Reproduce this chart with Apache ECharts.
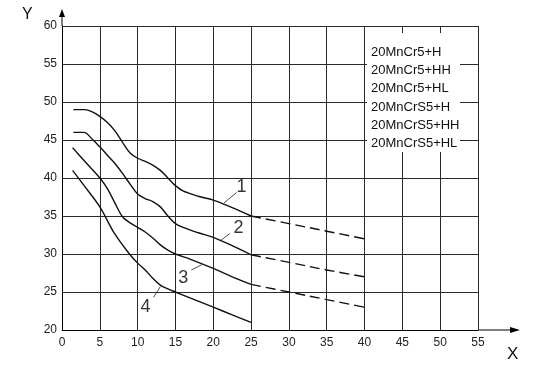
<!DOCTYPE html>
<html>
<head>
<meta charset="utf-8">
<script src="https://cdn.jsdelivr.net/npm/echarts@6/dist/echarts.min.js"></script>
<style>
  html, body { margin: 0; padding: 0; background: #fff; }
  #chart { width: 535px; height: 376px; }
</style>
</head>
<body>
<div id="chart"></div>
<script>
// curve data: [x, y]
const curve1 = [[1.5,49],[3,49],[4,48.7],[5,48.1],[6,47.3],[7,46.2],[8,44.7],[9,43.3],[10,42.6],[11,42.2],[12,41.7],[13,41.0],[14,40.0],[15,39.0],[16,38.3],[18,37.6],[20,37.1],[22.5,36.1],[25,35.0]]
const curve1Dash = [[25,35.0],[30,34.0],[35,33.0],[40,32.0]]
const curve2 = [[1.5,46],[2.9,46],[4,45.1],[5,44.1],[6,43.0],[7,41.9],[8,40.6],[9,39.2],[10,37.9],[11,37.3],[12,36.9],[13,36.2],[14,35.0],[15,34.0],[16,33.5],[18,32.8],[20,32.2],[22.5,31.1],[25,29.9]]
const curve2Dash = [[25,29.9],[30,28.9],[35,27.9],[40,27.0]]
const curve3 = [[1.4,44],[3,42.2],[5,40],[6,38.6],[7,36.7],[8,34.9],[9,34.1],[10,33.5],[11,32.9],[12,32.1],[13,31.2],[14,30.5],[15,30.0],[17,29.3],[20,28.1],[22.5,27.0],[25,26.0]]
const curve3Dash = [[25,26.0],[30,25.0],[35,24.0],[40,23.0]]
const curve4 = [[1.4,41],[3,38.9],[5,36.2],[7,32.6],[9,29.9],[10,28.8],[11,27.9],[12,26.8],[13,25.9],[14,25.4],[15,25.0],[17,24.2],[20,23.0],[22.5,22.0],[25,21.0]]

// curve number labels and their leader lines
const curveNames = ['1', '2', '3', '4']
const labelPos = [[23.8,38.8],[23.4,33.3],[16.1,26.8],[11.1,22.9]]
const leaders = [
  [[21.4,36.7],[23.1,38.1]],
  [[21.0,31.8],[22.2,32.7]],
  [[17.1,27.9],[18.5,28.6]],
  [[12.1,24.3],[13.0,25.7]]
]

const xTicks = [0,5,10,15,20,25,30,35,40,45,50,55]
const yTicks = [20,25,30,35,40,45,50,55,60]
const grades = ['20MnCr5+H','20MnCr5+HH','20MnCr5+HL','20MnCrS5+H','20MnCrS5+HH','20MnCrS5+HL']

const chart = echarts.init(document.getElementById('chart'), null, { renderer: 'canvas' })

const font = 'Liberation Sans, Arial, sans-serif'
const solid = { color: '#111', width: 1.4 }
const dashed = { color: '#111', width: 1.4, type: [10, 5] }

const lineSeries = (data, style) => ({
  type: 'line',
  data: data,
  smooth: 0.35,
  showSymbol: false,
  symbol: 'none',
  lineStyle: style,
  silent: true,
  z: 3
})

const series = [
  lineSeries(curve1, solid), lineSeries(curve1Dash, dashed),
  lineSeries(curve2, solid), lineSeries(curve2Dash, dashed),
  lineSeries(curve3, solid), lineSeries(curve3Dash, dashed),
  lineSeries(curve4, solid)
]

leaders.forEach(seg => {
  series.push({
    type: 'line',
    data: seg,
    symbol: 'none',
    lineStyle: { color: '#222', width: 0.8 },
    silent: true
  })
})

// numbers next to the curves
series.push({
  type: 'scatter',
  data: labelPos.map((p, i) => ({ value: p, name: curveNames[i] })),
  symbolSize: 1,
  silent: true,
  z: 5,
  itemStyle: { color: 'rgba(0,0,0,0)' },
  label: {
    show: true,
    position: [0, 0],
    align: 'center',
    verticalAlign: 'middle',
    formatter: p => p.name,
    fontFamily: font,
    fontSize: 18,
    color: '#000',
    textBorderWidth: 0
  }
})

// legend-like text block on the right
const boxGraphic = [
  {
    type: 'rect',
    shape: { x: 367, y: 33, width: 93, height: 119 },
    style: { fill: '#fff' },
    z: 10
  }
].concat(grades.map((g, i) => ({
  type: 'text',
  left: 371,
  top: 46 + i * 18.2,
  style: { text: g, fontFamily: font, fontSize: 13, fill: '#111' },
  z: 11
})))

// axis arrows and axis names
const arrowGraphic = [
  { type: 'line', shape: { x1: 62, y1: 26, x2: 62, y2: 14 }, style: { stroke: '#000', lineWidth: 1 } },
  { type: 'polygon', shape: { points: [[62,9],[59,17],[65,17]] }, style: { fill: '#000' } },
  { type: 'line', shape: { x1: 478, y1: 330, x2: 512, y2: 330 }, style: { stroke: '#000', lineWidth: 1 } },
  { type: 'polygon', shape: { points: [[520,330],[510,327],[510,333]] }, style: { fill: '#000' } },
  { type: 'text', left: 22, top: 7, style: { text: 'Y', fontFamily: font, fontSize: 16, fill: '#111' } },
  { type: 'text', left: 507, top: 346, style: { text: 'X', fontFamily: font, fontSize: 17, fill: '#111' } }
]

const option = {
  backgroundColor: '#fff',
  animation: false,
  grid: { left: 62, right: 57, top: 26, bottom: 46, containLabel: false },
  xAxis: {
    type: 'value',
    min: xTicks[0],
    max: xTicks[xTicks.length - 1],
    interval: 5,
    axisLine: { show: true, lineStyle: { color: '#000', width: 1 } },
    axisTick: { show: false },
    axisLabel: { color: '#222', fontSize: 12, fontFamily: font, margin: 7 },
    splitLine: { show: true, lineStyle: { color: '#2a2a2a', width: 1 } }
  },
  yAxis: {
    type: 'value',
    min: yTicks[0],
    max: yTicks[yTicks.length - 1],
    interval: 5,
    axisLine: { show: true, lineStyle: { color: '#000', width: 1 } },
    axisTick: { show: false },
    axisLabel: { color: '#222', fontSize: 12, fontFamily: font, margin: 5 },
    splitLine: { show: true, lineStyle: { color: '#2a2a2a', width: 1 } }
  },
  graphic: boxGraphic.concat(arrowGraphic),
  series: series
}

chart.setOption(option)
</script>
</body>
</html>
